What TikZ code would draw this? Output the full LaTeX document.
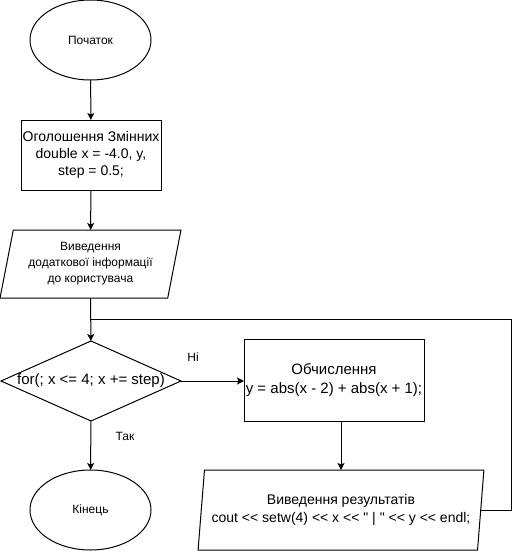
\documentclass[tikz,border=0pt]{standalone}
\usepackage{fontspec}
\setmainfont{Liberation Sans}[Ligatures=TeXOff]
\usetikzlibrary{shapes.geometric,arrows.meta}
\tikzset{
  every node/.style={inner sep=0pt, outer sep=0pt},
  base/.style={draw=black, line width=1pt, fill=white, align=center},
  term/.style={base, ellipse, minimum width=121pt, minimum height=80pt, font=\fontsize{12}{14}\selectfont},
  procbox/.style={base, rectangle},
  iobox/.style={base, trapezium, trapezium left angle=76, trapezium right angle=104, trapezium stretches=true},
  decbox/.style={base, diamond, minimum width=180pt, minimum height=80pt},
  conn/.style={line width=1pt, -{Stealth[length=7pt,width=7pt,inset=1.5pt]}},
  plain/.style={line width=1pt},
  lbl/.style={font=\fontsize{12}{14}\selectfont}
}
\begin{document}
\begin{tikzpicture}[x=1pt,y=-1pt]
\useasboundingbox (0,0) rectangle (521,552);
\node[term] (start) at (90.5,40) {Початок};
\node[procbox, minimum width=140pt, minimum height=70pt, font=\fontsize{14}{17}\selectfont] (decl) at (91,155) {Оголошення Змінних\\double x = -4.0, y,\\step = 0.5;};
\node[iobox, minimum width=181pt, minimum height=68pt, font=\fontsize{12}{16}\selectfont] (in1) at (90.5,264) {Виведення\\додаткової інформації\\до користувача};
\node[decbox, label={[font=\fontsize{15}{17}\selectfont]center:{for(; x <= 4; x += step)}}] (cond) at (91,381) {};
\node[procbox, minimum width=180pt, minimum height=82pt, font=\fontsize{15}{19}\selectfont] (calc) at (334,380) {Обчислення\\y = abs(x - 2) + abs(x + 1);};
\node[iobox, trapezium left angle=79, trapezium right angle=101, minimum width=287pt, minimum height=80pt, font=\fontsize{14}{18}\selectfont] (out) at (341,510) {Виведення результатів\\cout << setw(4) << x << " | " << y << endl;};
\node[term] (end) at (90.5,510) {Кінець};
\coordinate (join) at (91,319);
\coordinate (loopc) at (511,319);
\draw[conn] (start) -- (decl);
\draw[conn] (decl) -- (in1);
\draw[conn] (in1) -- (cond);
\draw[conn] (cond) -- (end);
\draw[conn] (cond.east) -- (cond.east -| calc.west);
\draw[conn] (calc.south -| out.north) -- (out.north);
\draw[plain] (out.east) -| (loopc) -- (join);
\node[lbl] (no) at (193,357) {Ні};
\node[lbl] (yes) at (125,436) {Так};
\end{tikzpicture}
\end{document}
